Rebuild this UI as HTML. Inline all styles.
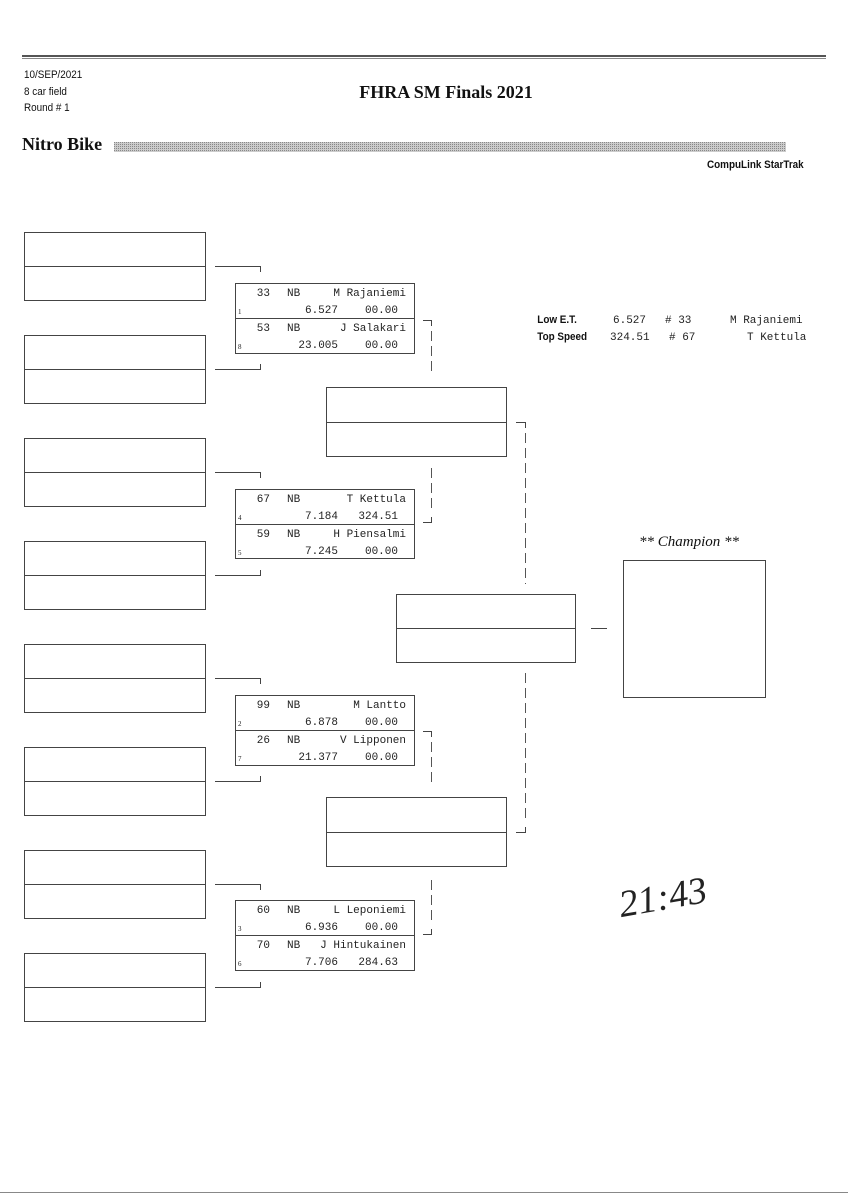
<!DOCTYPE html>
<html><head><meta charset="utf-8"><style>
html,body{margin:0;padding:0;background:#fff}
svg{display:block}
.m{font-family:"Liberation Mono",monospace;font-size:11px;fill:#222}
.s{font-family:"Liberation Sans",sans-serif;fill:#111}
.sd{font-family:"Liberation Serif",serif;font-size:7px;fill:#222}
</style></head><body>
<svg width="848" height="1200" viewBox="0 0 848 1200" xmlns="http://www.w3.org/2000/svg">
<defs>
<pattern id="dots" width="2" height="2" patternUnits="userSpaceOnUse"><rect width="2" height="2" fill="#ccc"/><rect width="1" height="1" fill="#888"/></pattern>
</defs>
<rect x="22" y="55" width="804" height="2" fill="#555"/>
<rect x="22" y="58" width="804" height="1" fill="#888"/>
<g transform="scale(0.9 1)">
<text x="26.7" y="78" class="s" font-size="11">10/SEP/2021</text>
<text x="26.7" y="95" class="s" font-size="11">8 car field</text>
<text x="26.7" y="111" class="s" font-size="11">Round # 1</text>
<text x="893" y="168" text-anchor="end" class="s" font-size="11" font-weight="bold">CompuLink StarTrak</text>
<text x="597" y="323" class="s" font-size="11" font-weight="bold">Low  E.T.</text>
<text x="597" y="340" class="s" font-size="11" font-weight="bold">Top Speed</text>
</g>
<text x="446" y="98" text-anchor="middle" font-family="Liberation Serif,serif" font-weight="bold" font-size="18" fill="#111">FHRA SM Finals 2021</text>
<text x="22" y="150" font-family="Liberation Serif,serif" font-weight="bold" font-size="18" fill="#111">Nitro Bike</text>
<rect x="114" y="142" width="672" height="10" fill="url(#dots)"/>

<g fill="none" stroke="#444" stroke-width="1">
<rect x="24.5" y="232.5" width="181" height="68"/><line x1="24" y1="266.5" x2="205" y2="266.5"/>
<rect x="24.5" y="335.5" width="181" height="68"/><line x1="24" y1="369.5" x2="205" y2="369.5"/>
<rect x="24.5" y="438.5" width="181" height="68"/><line x1="24" y1="472.5" x2="205" y2="472.5"/>
<rect x="24.5" y="541.5" width="181" height="68"/><line x1="24" y1="575.5" x2="205" y2="575.5"/>
<rect x="24.5" y="644.5" width="181" height="68"/><line x1="24" y1="678.5" x2="205" y2="678.5"/>
<rect x="24.5" y="747.5" width="181" height="68"/><line x1="24" y1="781.5" x2="205" y2="781.5"/>
<rect x="24.5" y="850.5" width="181" height="68"/><line x1="24" y1="884.5" x2="205" y2="884.5"/>
<rect x="24.5" y="953.5" width="181" height="68"/><line x1="24" y1="987.5" x2="205" y2="987.5"/>
<path d="M215 266.5H260.5V272"/><path d="M215 369.5H260.5V364"/>
<path d="M215 472.5H260.5V478"/><path d="M215 575.5H260.5V570"/>
<path d="M215 678.5H260.5V684"/><path d="M215 781.5H260.5V776"/>
<path d="M215 884.5H260.5V890"/><path d="M215 987.5H260.5V982"/>
<rect x="235.5" y="283.5" width="179" height="70"/><line x1="235" y1="318.5" x2="414" y2="318.5"/>
<rect x="235.5" y="489.5" width="179" height="69"/><line x1="235" y1="524.5" x2="414" y2="524.5"/>
<rect x="235.5" y="695.5" width="179" height="70"/><line x1="235" y1="730.5" x2="414" y2="730.5"/>
<rect x="235.5" y="900.5" width="179" height="70"/><line x1="235" y1="935.5" x2="414" y2="935.5"/>
<rect x="326.5" y="387.5" width="180" height="69"/><line x1="326" y1="422.5" x2="506" y2="422.5"/>
<rect x="326.5" y="797.5" width="180" height="69"/><line x1="326" y1="832.5" x2="506" y2="832.5"/>
<rect x="396.5" y="594.5" width="179" height="68"/><line x1="396" y1="628.5" x2="575" y2="628.5"/>
<line x1="591" y1="628.5" x2="607" y2="628.5"/>
<rect x="623.5" y="560.5" width="142" height="137"/>
<!-- solid horizontals of dashed connectors -->
<path d="M423 320.5H431.5V326"/><path d="M431.5 517V522.5H423"/>
<path d="M423 731.5H431.5V737"/><path d="M431.5 929V934.5H423"/>
<path d="M516 422.5H525.5V428"/><path d="M525.5 827V832.5H516"/>
</g>
<g fill="none" stroke="#555" stroke-width="1" stroke-dasharray="10,5">
<path d="M431.5 331V376"/><path d="M431.5 468V512"/>
<path d="M431.5 742V787"/><path d="M431.5 880V924"/>
<path d="M525.5 433V584"/><path d="M525.5 673V822"/>
</g>

<g class="m">
<text x="270" y="296" text-anchor="end">33</text><text x="287" y="296">NB</text><text x="406" y="296" text-anchor="end">M Rajaniemi</text>
<text x="338" y="313" text-anchor="end">6.527</text><text x="398" y="313" text-anchor="end">00.00</text>
<text x="270" y="331" text-anchor="end">53</text><text x="287" y="331">NB</text><text x="406" y="331" text-anchor="end">J Salakari</text>
<text x="338" y="348" text-anchor="end">23.005</text><text x="398" y="348" text-anchor="end">00.00</text>

<text x="270" y="502" text-anchor="end">67</text><text x="287" y="502">NB</text><text x="406" y="502" text-anchor="end">T Kettula</text>
<text x="338" y="519" text-anchor="end">7.184</text><text x="398" y="519" text-anchor="end">324.51</text>
<text x="270" y="537" text-anchor="end">59</text><text x="287" y="537">NB</text><text x="406" y="537" text-anchor="end">H Piensalmi</text>
<text x="338" y="554" text-anchor="end">7.245</text><text x="398" y="554" text-anchor="end">00.00</text>

<text x="270" y="708" text-anchor="end">99</text><text x="287" y="708">NB</text><text x="406" y="708" text-anchor="end">M Lantto</text>
<text x="338" y="725" text-anchor="end">6.878</text><text x="398" y="725" text-anchor="end">00.00</text>
<text x="270" y="743" text-anchor="end">26</text><text x="287" y="743">NB</text><text x="406" y="743" text-anchor="end">V Lipponen</text>
<text x="338" y="760" text-anchor="end">21.377</text><text x="398" y="760" text-anchor="end">00.00</text>

<text x="270" y="913" text-anchor="end">60</text><text x="287" y="913">NB</text><text x="406" y="913" text-anchor="end">L Leponiemi</text>
<text x="338" y="930" text-anchor="end">6.936</text><text x="398" y="930" text-anchor="end">00.00</text>
<text x="270" y="948" text-anchor="end">70</text><text x="287" y="948">NB</text><text x="406" y="948" text-anchor="end">J Hintukainen</text>
<text x="338" y="965" text-anchor="end">7.706</text><text x="398" y="965" text-anchor="end">284.63</text>
</g>
<g class="sd">
<text x="238" y="314">1</text><text x="238" y="349">8</text>
<text x="238" y="520">4</text><text x="238" y="555">5</text>
<text x="238" y="726">2</text><text x="238" y="761">7</text>
<text x="238" y="931">3</text><text x="238" y="966">6</text>
</g>

<g class="m">
<text x="613" y="323">6.527</text><text x="665" y="323"># 33</text><text x="730" y="323">M Rajaniemi</text>
<text x="610" y="340">324.51</text><text x="669" y="340"># 67</text><text x="747" y="340">T Kettula</text>
</g>
<text x="689" y="546" text-anchor="middle" font-family="Liberation Serif,serif" font-style="italic" font-size="15" fill="#111">** Champion **</text>

<text x="618" y="910" font-family="Liberation Serif,serif" font-style="italic" font-size="38" fill="#222" transform="rotate(-10 660 895)">21:43</text>

<rect x="0" y="1192" width="848" height="1" fill="#888"/>
</svg>
</body></html>
